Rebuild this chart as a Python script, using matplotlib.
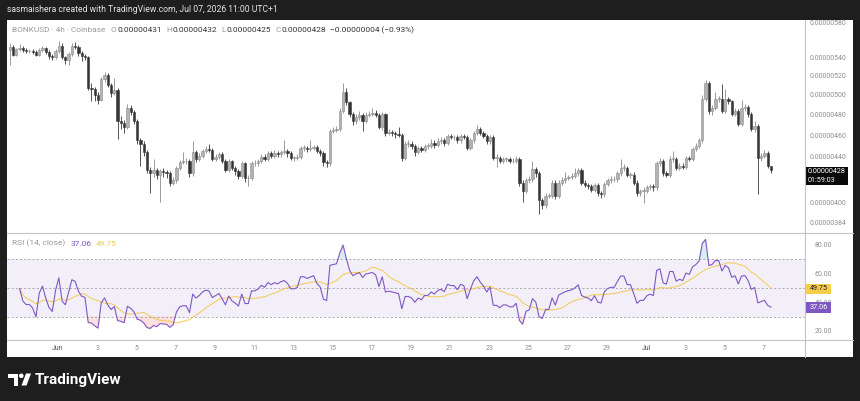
import numpy as np
import pandas as pd
import matplotlib
matplotlib.use("Agg")
import matplotlib.pyplot as plt
import matplotlib.dates as mdates
from matplotlib.patches import Rectangle, Circle, Polygon
from matplotlib.ticker import FixedLocator, NullLocator, FuncFormatter

plt.rcParams['font.family'] = ['Roboto', 'DejaVu Sans']

# ---------------- data (prices in units of 1e-8) ----------------
watermark = "sasmaishera created with TradingView.com, Jul 07, 2026 11:00 UTC+1"
symbol_title = "BONKUSD · 4h · Coinbase"
header_change = "\u22120.00000004 (\u22120.93%)"
first_candle = "2026-05-29 13:00"
first_open = 548
closes = [
    552, 543, 549, 551, 548, 547, 547, 546, 543, 548,
    550, 546, 542, 540, 547, 553, 540, 537, 544, 553,
    552, 545, 541, 540, 507, 506, 500, 495, 516, 521,
    510, 502, 505, 474, 472, 468, 486, 482, 474, 455,
    452, 444, 428, 425, 428, 424, 427, 426, 425, 417,
    419, 430, 435, 436, 436, 425, 444, 438, 441, 445,
    447, 446, 438, 440, 442, 436, 428, 436, 430, 427,
    423, 434, 421, 421, 434, 434, 436, 440, 438, 443,
    441, 443, 442, 444, 445, 443, 439, 439, 440, 448,
    448, 447, 448, 449, 445, 443, 435, 434, 464, 465,
    466, 483, 503, 492, 480, 474, 477, 479, 474, 479,
    480, 481, 479, 468, 480, 462, 463, 462, 461, 460,
    439, 452, 452, 450, 444, 448, 446, 450, 450, 453,
    451, 454, 455, 453, 459, 458, 458, 455, 459, 458,
    448, 455, 462, 466, 462, 459, 454, 458, 439, 439,
    436, 438, 438, 436, 436, 438, 417, 410, 419, 420,
    429, 425, 402, 398, 406, 406, 417, 406, 417, 419,
    421, 422, 423, 425, 428, 417, 415, 414, 411, 415,
    408, 407, 416, 419, 420, 420, 425, 430, 430, 424,
    424, 417, 408, 410, 410, 413, 414, 413, 434, 436,
    425, 424, 438, 438, 430, 432, 431, 439, 438, 447,
    450, 455, 496, 512, 483, 486, 496, 496, 483, 496,
    493, 480, 483, 471, 486, 487, 480, 466, 469, 439,
    441, 443, 432, 428,
]
highs = [
    556, 554, 551, 555, 553, 550, 549, 549, 548, 550,
    553, 552, 548, 544, 549, 558, 556, 542, 546, 556,
    557, 554, 547, 544, 542, 512, 508, 503, 519, 524,
    523, 512, 518, 507, 478, 475, 490, 489, 484, 476,
    457, 454, 446, 431, 438, 430, 429, 430, 428, 427,
    422, 432, 437, 444, 439, 438, 454, 446, 443, 447,
    450, 452, 448, 442, 444, 444, 438, 438, 437, 432,
    429, 436, 435, 424, 436, 437, 438, 442, 442, 445,
    445, 446, 445, 446, 455, 447, 445, 441, 442, 450,
    451, 450, 455, 451, 451, 447, 445, 437, 466, 468,
    469, 486, 512, 507, 494, 482, 480, 483, 481, 482,
    483, 486, 484, 481, 482, 481, 466, 465, 464, 468,
    462, 454, 455, 454, 452, 450, 450, 452, 453, 456,
    455, 457, 458, 457, 461, 461, 460, 460, 461, 461,
    460, 457, 464, 470, 468, 464, 461, 460, 460, 442,
    441, 440, 440, 440, 439, 441, 440, 419, 421, 423,
    436, 431, 427, 404, 408, 408, 419, 419, 419, 422,
    426, 424, 425, 430, 430, 430, 419, 417, 416, 417,
    417, 410, 418, 421, 423, 423, 427, 438, 433, 432,
    426, 426, 419, 412, 413, 415, 416, 416, 436, 439,
    438, 427, 441, 445, 440, 434, 434, 441, 441, 449,
    453, 457, 500, 515, 514, 489, 503, 499, 511, 506,
    498, 495, 486, 485, 495, 490, 489, 482, 474, 471,
    443, 446, 445, 432,
]
lows = [
    532, 541, 541, 547, 546, 545, 545, 544, 541, 541,
    546, 544, 538, 537, 538, 545, 538, 533, 532, 542,
    549, 542, 536, 537, 505, 493, 494, 490, 493, 513,
    508, 498, 500, 456, 466, 462, 466, 479, 471, 452,
    432, 441, 425, 408, 422, 420, 401, 422, 421, 414,
    415, 417, 428, 433, 433, 422, 423, 435, 436, 439,
    443, 444, 436, 436, 438, 434, 426, 426, 428, 424,
    420, 421, 418, 414, 419, 432, 432, 434, 436, 436,
    439, 439, 440, 440, 442, 440, 437, 436, 437, 438,
    445, 444, 445, 446, 443, 441, 432, 431, 432, 462,
    463, 464, 481, 489, 477, 470, 471, 475, 464, 472,
    477, 478, 477, 466, 465, 459, 460, 459, 457, 458,
    436, 437, 449, 447, 441, 442, 444, 444, 447, 448,
    448, 449, 452, 450, 451, 456, 455, 453, 453, 456,
    446, 446, 453, 460, 460, 457, 452, 452, 437, 431,
    434, 434, 435, 434, 434, 434, 414, 401, 408, 417,
    418, 422, 391, 395, 396, 404, 404, 403, 404, 415,
    417, 419, 420, 421, 423, 415, 413, 412, 409, 409,
    406, 404, 405, 414, 417, 418, 418, 423, 427, 422,
    421, 415, 406, 406, 400, 408, 411, 410, 411, 432,
    423, 422, 422, 435, 428, 428, 429, 429, 436, 436,
    445, 448, 453, 494, 480, 479, 484, 492, 481, 481,
    490, 478, 478, 469, 469, 483, 477, 464, 463, 407,
    436, 439, 430, 425,
]
last_ohlc = [431, 432, 425, 428]
price_ticks = [384, 400, 440, 460, 480, 500, 520, 540, 580]
rsi_ticks = [20, 40, 60, 80]
rsi_last = 37.06
rsi_ma_last = 49.75
countdown = "01:59:03"
tick_dates = ["2026-06-01", "2026-06-03", "2026-06-05", "2026-06-07", "2026-06-09",
              "2026-06-11", "2026-06-13", "2026-06-15", "2026-06-17", "2026-06-19",
              "2026-06-21", "2026-06-23", "2026-06-25", "2026-06-27", "2026-06-29",
              "2026-07-01", "2026-07-03", "2026-07-05", "2026-07-07"]
tick_labels = ["Jun", "3", "5", "7", "9", "11", "13", "15", "17", "19",
               "21", "23", "25", "27", "29", "Jul", "3", "5", "7"]

# ---------------- figure ----------------
W, H = 860, 401
BG = '#1e1e1e'
fig = plt.figure(figsize=(W / 100, H / 100), dpi=100, facecolor=BG)

def fx(p):
    return p / W

def fy(p):
    return 1 - p / H

fig.patches.append(Rectangle((fx(7), fy(357)), (853 - 7) / W, (357 - 20) / H,
                             transform=fig.transFigure, fc='white', ec='none', zorder=-5))

ax = fig.add_axes([fx(7), fy(232), fx(805) - fx(7), (232 - 20) / H])
ax2 = fig.add_axes([fx(7), fy(339), fx(805) - fx(7), (339 - 233) / H], sharex=ax)
for a in (ax, ax2):
    a.set_facecolor('white')
    for s in a.spines.values():
        s.set_visible(False)

dates = pd.date_range(first_candle, periods=len(closes), freq="4h")
dn = mdates.date2num(dates)
c = np.array(closes, dtype=float)
o = np.array([first_open] + closes[:-1], dtype=float)
hi = np.maximum.reduce([np.array(highs, float), o, c])
lo = np.minimum.reduce([np.array(lows, float), o, c])
up = c >= o

bull_fc, bull_ec = '#b3b3b3', '#8a8a8a'
bear_fc = '#353535'
wick_col = np.where(up, bull_ec, bear_fc)
ax.vlines(dn, lo, hi, colors=wick_col, lw=0.6, zorder=2)
body_bottom = np.minimum(o, c)
body_h = np.maximum(np.abs(c - o), 0.4)
ax.bar(dn[up], body_h[up], bottom=body_bottom[up], width=0.115,
       color=bull_fc, edgecolor=bull_ec, lw=0.4, zorder=3)
ax.bar(dn[~up], body_h[~up], bottom=body_bottom[~up], width=0.115,
       color=bear_fc, edgecolor=bear_fc, lw=0.4, zorder=3)

ax.set_yscale('log')
ax.set_ylim(376.7, 583.2)
ax.yaxis.set_major_locator(FixedLocator(price_ticks))
ax.yaxis.set_minor_locator(NullLocator())
ax.yaxis.set_major_formatter(FuncFormatter(lambda v, p: f"{v * 1e-8:.8f}"))
ax.yaxis.tick_right()
ax.tick_params(axis='y', length=0, pad=3.6, labelsize=5, labelcolor='#8e8e8e')
ax.tick_params(axis='x', bottom=False, labelbottom=False)

jun1 = mdates.date2num(pd.Timestamp("2026-06-01"))
ax.set_xlim(jun1 - (58 - 7) / 19.6, jun1 + (805 - 58) / 19.6)

# ---------------- RSI ----------------
s = pd.Series(c)
d = s.diff()
gain = d.clip(lower=0)
loss = (-d).clip(lower=0)
ag = gain.ewm(alpha=1 / 14, adjust=True, min_periods=3).mean()
al = loss.ewm(alpha=1 / 14, adjust=True, min_periods=3).mean()
rsi = 100 - 100 / (1 + ag / al)
rsi_ma = rsi.rolling(14, min_periods=1).mean()

ax2.axhspan(30, 70, color='#7E57C2', alpha=0.09, lw=0, zorder=0)
for lvl in (70, 50, 30):
    ax2.axhline(lvl, color='#a0a0ac', lw=0.6, ls=(0, (2.5, 2.5)), zorder=1)
rv = rsi.values
ax2.fill_between(dn, 70, rv, where=rv > 70, interpolate=True, color='#26a69a', alpha=0.18, lw=0)
ax2.fill_between(dn, rv, 30, where=rv < 30, interpolate=True, color='#ef5350', alpha=0.18, lw=0)
ax2.plot(dn, rsi_ma.values, color='#f2c94c', lw=0.8, alpha=0.85, zorder=3)
ax2.plot(dn, rv, color='#7E57C2', lw=0.8, zorder=4)
ax2.set_ylim(14.4, 88.2)
ax2.yaxis.set_major_locator(FixedLocator(rsi_ticks))
ax2.yaxis.set_major_formatter(FuncFormatter(lambda v, p: f"{v:.2f}"))
ax2.yaxis.tick_right()
ax2.tick_params(axis='y', length=0, pad=7, labelsize=5, labelcolor='#8e8e8e')
td = mdates.date2num(pd.to_datetime(tick_dates))
ax2.xaxis.set_major_locator(FixedLocator(td))
ax2.xaxis.set_minor_locator(NullLocator())
ax2.set_xticklabels(tick_labels)
ax2.tick_params(axis='x', length=0, pad=4, labelsize=5, labelcolor='#8e8e8e')
for lab in ax2.get_xticklabels():
    if lab.get_text() in ("Jun", "Jul"):
        lab.set_color('#555555')

# ---------------- overlay (pixel coords) ----------------
ov = fig.add_axes([0, 0, 1, 1], zorder=10)
ov.set_xlim(0, W)
ov.set_ylim(H, 0)
ov.axis('off')
ov.patch.set_alpha(0)

sep = '#c4c4c4'
ov.plot([7, 853], [232.5, 232.5], color=sep, lw=0.8)
ov.plot([7, 853], [339.5, 339.5], color=sep, lw=0.8)
ov.plot([805, 805], [20, 357], color=sep, lw=0.8)

ov.text(7, 10, watermark, color='#e6e6e6', fontsize=6.2, va='center', ha='left')

renderer = fig.canvas.get_renderer()

def seq(pieces, x, y, size):
    for txt, col, gap in pieces:
        t = ov.text(x, y, txt, color=col, fontsize=size, va='center', ha='left')
        x += t.get_window_extent(renderer).width + gap

grey, dark = '#9a9a9a', '#333333'
fmt = lambda v: f"{v * 1e-8:.8f}"
seq([(symbol_title, grey, 5.5),
     ("O", grey, 0.5), (fmt(last_ohlc[0]), dark, 4.5),
     ("H", grey, 0.5), (fmt(last_ohlc[1]), dark, 4.5),
     ("L", grey, 0.5), (fmt(last_ohlc[2]), dark, 4.5),
     ("C", grey, 0.5), (fmt(last_ohlc[3]), dark, 4.5),
     (header_change, dark, 0)], 12, 30.5, 5.95)

seq([("RSI (14, close)", grey, 5), (f"{rsi_last:.2f}", '#7E57C2', 5),
     (f"{rsi_ma_last:.2f}", '#f2c94c', 0)], 12, 243.5, 6.0)

# current price label
ov.add_patch(Rectangle((805, 166.5), 43, 18, fc='#0a0a0a', ec='none'))
ov.text(808, 171.5, fmt(last_ohlc[3]), color='white', fontsize=5.2, va='center', ha='left')
ov.text(808, 180, countdown, color='white', fontsize=5.2, va='center', ha='left')

# RSI value labels
ov.add_patch(Rectangle((806, 283.8), 25, 10.5, fc='#f4cd4b', ec='none'))
ov.text(809.5, 289, f"{rsi_ma_last:.2f}", color='#222222', fontsize=5.2, va='center', ha='left')
ov.add_patch(Rectangle((805, 302), 25.5, 10.5, fc='#7E57C2', ec='none'))
ov.text(809.5, 307.3, f"{rsi_last:.2f}", color='white', fontsize=5.2, va='center', ha='left')

# TradingView logo
ov.add_patch(Polygon([(8, 373.5), (18, 373.5), (18, 385.5), (13.5, 385.5), (13.5, 378), (8, 378)],
                     closed=True, fc='white', ec='none'))
ov.add_patch(Circle((21.3, 375.8), 2.3, fc='white', ec='none'))
ov.add_patch(Polygon([(21.5, 385.5), (26.5, 385.5), (31, 373.5), (26, 373.5)],
                     closed=True, fc='white', ec='none'))
ov.text(35, 380, "TradingView", color='white', fontsize=11, fontweight='bold', va='center', ha='left')

fig.savefig('out.png', dpi=100, facecolor=BG)
